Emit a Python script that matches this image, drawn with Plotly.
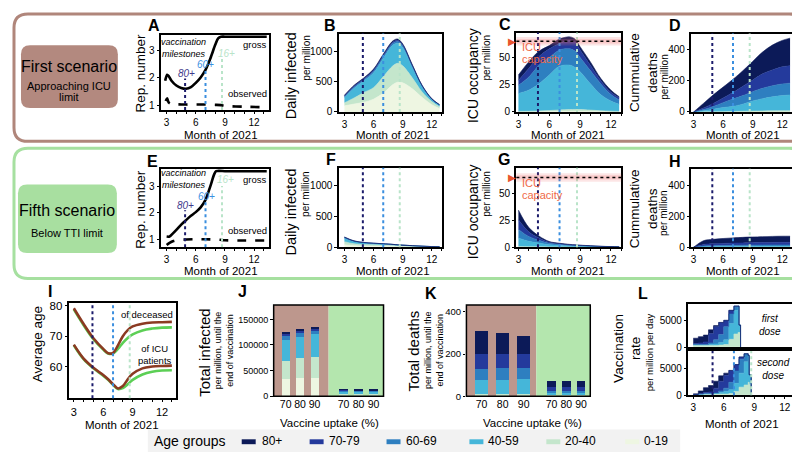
import plotly.graph_objects as go

W, H = 800, 452
SANS = "Liberation Sans, Arial, sans-serif"

# ------------------------------------------------------------------ data
AGE_GROUPS = ["0-19", "20-40", "40-59", "60-69", "70-79", "80+"]
AGE_COLORS = ["#eef6e2", "#c4e6cc", "#45b6d9", "#2e7fc0", "#243a9c", "#0c1a58"]

MILESTONE_MONTHS = [4.9, 7.0, 8.7]
MILESTONE_NAMES = ["80+", "60+", "16+"]
MILESTONE_COLORS = ["#1b1b6b", "#3b8fdf", "#b9e4c9"]

# reproduction number, first scenario (A)
GROSS_MONTHS_1 = [2.85, 3.05, 3.2, 3.5, 4, 4.5, 5, 5.5, 6, 6.5, 7, 7.5, 8, 8.3, 8.6, 9, 10, 11, 12, 13.3]
GROSS_1 = [1.9, 2.12, 2.08, 1.9, 1.72, 1.63, 1.6, 1.66, 1.82, 2.02, 2.3, 2.72, 3.22, 3.46, 3.52, 3.52, 3.52, 3.52, 3.52, 3.52]
OBS_MONTHS_1 = [2.9, 3.05, 3.2, 3.5, 4, 5, 6, 7, 8, 8.6, 9, 11, 13.3]
OBSERVED_1 = [1.15, 1.25, 1.1, 1.04, 1.03, 1.02, 1.02, 1.02, 1.01, 1.0, 0.97, 0.94, 0.92]

# reproduction number, fifth scenario (E)
GROSS_MONTHS_5 = [3.0, 3.3, 3.6, 4, 4.5, 5, 5.5, 6, 6.5, 7, 7.5, 7.9, 8.1, 9, 10, 11, 12, 13.3]
GROSS_5 = [1.1, 1.1, 1.2, 1.35, 1.55, 1.72, 1.88, 2.02, 2.2, 2.48, 3.0, 3.45, 3.56, 3.56, 3.56, 3.56, 3.56, 3.56]
OBS_MONTHS_5 = [3.0, 3.3, 3.7, 4.2, 5, 6, 7, 8, 8.5, 9, 11, 13.3]
OBSERVED_5 = [0.78, 0.86, 0.93, 0.97, 0.99, 1.0, 1.0, 0.99, 0.98, 0.96, 0.95, 0.95]

# stacked time series, rows follow AGE_GROUPS
MONTHS = [3, 4, 5, 6, 7, 8, 8.5, 9, 10, 11, 12, 12.8]

INFECTED_1 = [
    [100, 130, 160, 210, 310, 450, 490, 480, 380, 240, 120, 55],
    [50, 100, 160, 190, 270, 310, 310, 280, 180, 90, 50, 30],
    [85, 160, 190, 240, 300, 340, 330, 300, 170, 80, 30, 25],
    [15, 20, 20, 30, 30, 30, 30, 30, 20, 15, 10, 5],
    [12, 15, 15, 20, 20, 20, 20, 15, 15, 10, 5, 3],
    [13, 15, 15, 15, 20, 20, 20, 15, 10, 5, 5, 2],
]
ICU_1 = [
    [0.2, 0.2, 0.3, 0.4, 0.5, 0.6, 0.6, 0.6, 0.5, 0.3, 0.2, 0.1],
    [0.3, 0.4, 0.6, 0.9, 1.3, 1.6, 1.7, 1.6, 1.2, 0.8, 0.5, 0.3],
    [16.5, 19.4, 25, 32.7, 40.2, 40.8, 38.7, 34.8, 24.3, 14.9, 9.3, 6.6],
    [7.5, 12, 17, 16, 15, 15, 15, 13, 12, 10, 6, 4],
    [4.5, 8, 8, 8, 6, 8, 8, 7, 5, 3, 2, 2],
    [5, 6, 5, 3, 4, 3, 3, 3, 3, 2, 2, 1],
]
DEATHS_1 = [
    [0, 0, 0, 0, 0.1, 0.2, 0.2, 0.3, 0.3, 0.4, 0.4, 0.4],
    [0, 0.5, 1, 2, 3, 4, 5, 5, 6, 7, 8, 8],
    [0, 7.5, 17, 26, 33, 46, 55, 65, 79, 90, 97, 101],
    [0, 7, 17, 32, 47, 55, 57, 60, 67, 71, 75, 76],
    [0, 10, 20, 30, 42, 60, 68, 75, 93, 102, 110, 112],
    [0, 30, 55, 70, 85, 100, 110, 120, 140, 160, 170, 178],
]
INFECTED_5 = [
    [40, 25, 20, 18, 15, 12, 10, 9, 7, 5, 3, 2],
    [50, 30, 25, 22, 20, 16, 14, 12, 9, 6, 4, 3],
    [55, 35, 25, 20, 18, 15, 13, 11, 8, 5, 3, 2],
    [10, 6, 4, 3, 2, 1.5, 1, 1, 0.8, 0.5, 0.3, 0.2],
    [6, 4, 2, 1.5, 1, 0.8, 0.6, 0.5, 0.4, 0.3, 0.2, 0.1],
    [5, 3, 1.5, 1, 0.8, 0.6, 0.5, 0.4, 0.3, 0.2, 0.1, 0.1],
]
ICU_5 = [
    [0.1, 0.1, 0.1, 0.1, 0.1, 0.05, 0.05, 0.05, 0.05, 0.03, 0.02, 0.02],
    [0.5, 0.4, 0.3, 0.2, 0.2, 0.15, 0.1, 0.1, 0.1, 0.05, 0.05, 0.05],
    [8, 5, 3.5, 2, 1.5, 1.1, 1, 0.8, 0.6, 0.4, 0.25, 0.2],
    [8, 4.5, 2.5, 1.3, 0.9, 0.6, 0.5, 0.45, 0.3, 0.2, 0.12, 0.08],
    [9, 4.5, 2.2, 1.0, 0.6, 0.4, 0.35, 0.3, 0.2, 0.12, 0.08, 0.05],
    [9, 4, 1.8, 0.7, 0.4, 0.3, 0.25, 0.2, 0.12, 0.08, 0.05, 0.03],
]
DEATHS_5 = [
    [0, 0, 0, 0, 0, 0, 0, 0, 0, 0, 0, 0],
    [0, 0.6, 0.8, 1, 1.1, 1.2, 1.3, 1.3, 1.4, 1.4, 1.5, 1.5],
    [0, 2.5, 3, 3.5, 4, 4.2, 4.4, 4.5, 4.7, 4.8, 5, 5],
    [0, 5, 5.8, 6.5, 7, 7.5, 7.5, 7.6, 7.8, 8, 8, 8],
    [0, 10, 12.5, 13.5, 14.5, 15, 15.5, 16, 16.5, 17, 17, 17],
    [0, 24, 29, 32, 34, 36, 37, 37, 38, 39, 40, 40],
]

# average age (I)
AGE_MONTHS = [3, 4, 5, 6, 6.5, 7, 7.5, 8, 8.5, 9, 10, 11, 12, 13]
AGE_DECEASED_1 = [79.2, 74.0, 69.3, 65.8, 64.4, 64.5, 67.0, 70.0, 72.0, 73.2, 74.1, 74.5, 74.6, 74.7]
AGE_DECEASED_5 = [78.8, 73.6, 69.0, 65.6, 64.3, 64.3, 65.8, 67.8, 69.4, 70.6, 71.9, 72.5, 72.8, 72.9]
AGE_ICU_1 = [67.2, 62.6, 59.6, 57.2, 55.8, 54.2, 52.8, 53.6, 55.8, 57.6, 59.4, 60.0, 60.2, 60.3]
AGE_ICU_5 = [67.0, 62.4, 59.4, 57.0, 55.6, 54.0, 52.6, 52.9, 54.2, 55.6, 57.4, 58.3, 58.7, 58.8]

# totals until end of vaccination (J, K), rows follow AGE_GROUPS
UPTAKE = ["70", "80", "90"]
TOTAL_INF_1 = [[33000, 35000, 36000], [36000, 40000, 41000], [41000, 40000, 44000],
               [7000, 10000, 8000], [4000, 3000, 3000], [4000, 3000, 3000]]
TOTAL_INF_5 = [[1500, 1500, 1400], [2500, 2400, 2400], [5000, 4900, 4800],
               [1800, 1800, 1800], [1200, 1100, 1100], [1000, 1000, 1000]]
TOTAL_DEATHS_1 = [[1, 1, 1], [8, 8, 9], [68, 70, 73], [53, 54, 52], [70, 67, 63], [108, 100, 90]]
TOTAL_DEATHS_5 = [[0.5, 0.5, 0.5], [4, 4, 4], [12, 12, 12], [9, 9, 9], [16, 16, 16], [30, 30, 30]]

# vaccination rate (L), rows follow AGE_GROUPS
DOSE1_MONTHS = [3.0, 3.5, 4.0, 4.5, 5.0, 5.5, 6.0, 6.5, 7.0, 7.4, 7.5, 7.65]
DOSE1 = [
    [0, 0, 0, 0, 0, 0, 0, 0, 0, 0, 0, 0],
    [300, 300, 300, 300, 300, 400, 500, 1500, 2500, 2800, 2800, 0],
    [200, 200, 200, 200, 300, 500, 900, 3000, 4500, 5000, 1400, 0],
    [0, 0, 0, 300, 800, 1500, 2500, 1800, 800, 0, 0, 0],
    [200, 300, 500, 1800, 2500, 2300, 1200, 700, 0, 0, 0, 0],
    [1000, 1200, 1300, 700, 200, 0, 0, 0, 0, 0, 0, 0],
]
DOSE2_MONTHS = [3.0, 3.5, 4.0, 4.5, 5.0, 5.5, 6.0, 6.5, 7.0, 7.5, 8.0, 8.4, 8.5, 8.7]
DOSE2 = [
    [0, 0, 0, 0, 0, 0, 0, 0, 0, 0, 0, 0, 0, 0],
    [50, 100, 150, 150, 200, 200, 200, 300, 700, 1500, 1900, 2400, 2000, 0],
    [50, 100, 150, 150, 200, 300, 500, 700, 1500, 2600, 4300, 5000, 1800, 0],
    [0, 0, 0, 0, 0, 300, 600, 1400, 2300, 2600, 1500, 0, 0, 0],
    [0, 100, 200, 300, 900, 1800, 2400, 2200, 1200, 400, 0, 0, 0, 0],
    [150, 500, 900, 1200, 1300, 1000, 400, 0, 0, 0, 0, 0, 0, 0],
]

# ------------------------------------------------------------------ helpers
BROWN = "#b0867b"
BROWN_FILL = "#b3897f"
BROWN_BG = "#bd978d"
GREEN = "#a6e0a0"
GREEN_FILL = "#a8dfa0"
GREEN_BG = "#b4e6ae"
LINE_BROWN = "#8b3a22"
LINE_GREEN = "#5ccf55"
ICU_RED = "#ef6a48"

fig = go.Figure()
layout = dict(width=W, height=H, margin=dict(l=0, r=0, t=0, b=0),
              paper_bgcolor="white", plot_bgcolor="white", showlegend=False,
              barmode="stack", font=dict(family=SANS, size=12, color="black"))
shapes, annos = [], []

AXIS = dict(showline=True, linecolor="black", linewidth=1.5, mirror=True,
            ticks="outside", ticklen=2.5, tickwidth=1.2, tickcolor="black",
            showgrid=False, zeroline=False, fixedrange=True,
            tickfont=dict(family=SANS, size=10, color="black"))
TIME_X = dict(tickvals=[3, 6, 9, 12],
              minor=dict(ticks="outside", dtick=1, tick0=3, ticklen=2,
                         tickwidth=1, tickcolor="black"))


def ref(n):
    return ("x", "y") if n == 1 else (f"x{n}", f"y{n}")


def axes(n, box, xr, yr, xkw=None, ykw=None):
    l, r, t, b = box
    xa = dict(AXIS, domain=[l / W, r / W], range=xr, anchor=ref(n)[1])
    ya = dict(AXIS, domain=[1 - b / H, 1 - t / H], range=yr, anchor=ref(n)[0])
    xa.update(xkw or {})
    ya.update(ykw or {})
    layout["xaxis" if n == 1 else f"xaxis{n}"] = xa
    layout["yaxis" if n == 1 else f"yaxis{n}"] = ya


def note(text, x, y, size=12, color="black", angle=0, xanchor="center", yanchor="middle"):
    annos.append(dict(text=text, x=x / W, y=1 - y / H, xref="paper", yref="paper",
                      showarrow=False, textangle=angle, xanchor=xanchor,
                      yanchor=yanchor, font=dict(family=SANS, size=size, color=color)))


def rrect(x0, y0, x1, y1, r, line=None, fill="rgba(0,0,0,0)", width=0):
    def p(x, y):
        return f"{x / W:.5f},{1 - y / H:.5f}"
    path = (f"M {p(x0 + r, y0)} L {p(x1 - r, y0)} Q {p(x1, y0)} {p(x1, y0 + r)} "
            f"L {p(x1, y1 - r)} Q {p(x1, y1)} {p(x1 - r, y1)} L {p(x0 + r, y1)} "
            f"Q {p(x0, y1)} {p(x0, y1 - r)} L {p(x0, y0 + r)} Q {p(x0, y0)} {p(x0 + r, y0)} Z")
    shapes.append(dict(type="path", path=path, xref="paper", yref="paper",
                       fillcolor=fill, layer="below",
                       line=dict(color=line or fill, width=width)))


def vlines(n, tops=None, bottom=None):
    xr, yr = ref(n)
    for i, m in enumerate(MILESTONE_MONTHS):
        if tops is None:
            s = dict(yref=f"{yr} domain", y0=0, y1=1)
        else:
            s = dict(yref=yr, y0=bottom, y1=tops[i])
        shapes.append(dict(type="line", xref=xr, x0=m, x1=m, layer="above",
                           line=dict(color=MILESTONE_COLORS[i], width=2, dash="dot"), **s))


def stacked(n, months, rows, shape="spline"):
    xr, yr = ref(n)
    for g, vals in enumerate(rows):
        fig.add_trace(go.Scatter(
            x=months, y=vals, xaxis=xr, yaxis=yr, stackgroup=f"s{n}", mode="lines",
            line=dict(width=0.6, color=AGE_COLORS[g], shape=shape),
            fillcolor=AGE_COLORS[g], hoverinfo="skip"))


def icu_capacity(n):
    xr, yr = ref(n)
    shapes.append(dict(type="rect", xref=f"{xr} domain", x0=0, x1=1, yref=yr, y0=61, y1=69,
                       fillcolor="rgba(240,110,110,0.18)", line=dict(width=0), layer="above"))
    shapes.append(dict(type="rect", xref=f"{xr} domain", x0=0, x1=1, yref=yr, y0=63, y1=67,
                       fillcolor="rgba(240,110,110,0.22)", line=dict(width=0), layer="above"))
    shapes.append(dict(type="line", xref=f"{xr} domain", x0=0, x1=1, yref=yr, y0=65, y1=65,
                       line=dict(color="black", width=1.6, dash="dot"), layer="above"))
    annos.append(dict(text="▶", xref=f"{xr} domain", x=-0.1, yref=yr, y=65,
                      showarrow=False, font=dict(size=10, color="#e8552f")))
    for txt, y in [("ICU", 59.5), ("capacity", 49)]:
        annos.append(dict(text=txt, xref=f"{xr} domain", x=0.03, yref=yr, y=y,
                          xanchor="left", showarrow=False,
                          font=dict(family=SANS, size=11, color=ICU_RED)))


def rep_panel(n, gm, gross, om, obs, tops, bottom, lab_pos):
    xr, yr = ref(n)
    fig.add_trace(go.Scatter(x=gm, y=gross, xaxis=xr, yaxis=yr, mode="lines",
                             line=dict(color="black", width=2.6, shape="spline", smoothing=0.8),
                             hoverinfo="skip"))
    fig.add_trace(go.Scatter(x=om, y=obs, xaxis=xr, yaxis=yr, mode="lines",
                             line=dict(color="black", width=2.6, dash="dash", shape="spline",
                                       smoothing=0.8),
                             hoverinfo="skip"))
    vlines(n, tops, bottom)
    for i, (lx, ly) in enumerate(lab_pos):
        annos.append(dict(text=f"<i>{MILESTONE_NAMES[i]}</i>", x=lx, y=ly, xref=xr, yref=yr,
                          showarrow=False, font=dict(family=SANS, size=10,
                                                     color=["#3e3a8c", "#3b8fdf", "#b9e4c9"][i])))


# ------------------------------------------------------------------ scenario frames
rrect(5, 3, 795, 133, 14, line=BROWN, width=3)
rrect(5, 140, 795, 273, 14, line=GREEN, width=3)
rrect(12, 35, 109, 99, 9, fill=BROWN_FILL)
rrect(9, 177, 108, 247, 9, fill=GREEN_FILL)
note("First scenario", 60, 57, 16)
note("Approaching ICU", 60, 77, 11)
note("limit", 60, 88, 11)
note("Fifth scenario", 58, 204, 16)
note("Below TTI limit", 58, 226, 11)

# ------------------------------------------------------------------ axes
axes(1, (152, 260, 24, 101), [2.4, 13.5], [0.82, 3.6], TIME_X, dict(tickvals=[1, 2, 3]))
axes(2, (330, 434, 23, 103), [2.4, 13.1], [0, 1290], TIME_X, dict(tickvals=[0, 500, 1000]))
axes(3, (508, 613, 22, 103), [2.8, 13.0], [0, 73], TIME_X, dict(tickvals=[0, 25, 50]))
axes(4, (683, 785, 23, 103), [2.75, 13.1], [0, 505], TIME_X, dict(tickvals=[0, 200, 400]))
axes(5, (152, 260, 161, 241), [2.4, 13.5], [0.7, 3.65], TIME_X, dict(tickvals=[1, 2, 3]))
axes(6, (330, 434, 160, 241), [2.4, 13.1], [0, 1290], TIME_X, dict(tickvals=[0, 500, 1000]))
axes(7, (508, 613, 160, 241), [2.8, 13.0], [0, 74], TIME_X, dict(tickvals=[0, 25, 50]))
axes(8, (683, 785, 161, 241), [2.75, 13.1], [0, 510], TIME_X, dict(tickvals=[0, 200, 400]))
axes(9, (60, 167, 298, 395), [2.5, 13.4], [49.6, 80.9],
     dict(TIME_X, tickfont=dict(family=SANS, size=11)),
     dict(tickvals=[60, 70, 80], tickfont=dict(family=SANS, size=11.5)))

BAR_X = dict(type="category", categoryarray=UPTAKE, showline=False, mirror=False, ticks="",
             tickangle=0, tickfont=dict(family=SANS, size=10.5))
BAR_Y = dict(showline=False, mirror=False)
axes(10, (265, 320, 300, 393), [-0.83, 2.97], [0, 178000], BAR_X,
     dict(BAR_Y, tickvals=[0, 50000, 100000, 150000], tickformat="d",
          tickfont=dict(family=SANS, size=9)))
axes(11, (320, 375, 300, 393), [-1.0, 2.67], [0, 178000], BAR_X,
     dict(BAR_Y, showticklabels=False, ticks=""))
axes(12, (458, 528, 300, 393), [-0.72, 2.6], [0, 433], BAR_X,
     dict(BAR_Y, tickvals=[0, 200, 400], tickfont=dict(family=SANS, size=9.5)))
axes(13, (528, 582, 300, 393), [-1.03, 2.63], [0, 433], BAR_X,
     dict(BAR_Y, showticklabels=False, ticks=""))
axes(14, (680, 789, 299, 343), [2.5, 13.2], [0, 8200],
     dict(showticklabels=False, ticks=""), dict(tickvals=[0, 5000]))
axes(15, (680, 789, 347, 392), [2.5, 13.2], [0, 8200], TIME_X, dict(tickvals=[0, 5000]))

# ------------------------------------------------------------------ A / E
rep_panel(1, GROSS_MONTHS_1, GROSS_1, OBS_MONTHS_1, OBSERVED_1,
          [1.98, 2.35, 2.7], 0.82, [(5.05, 2.16), (7.0, 2.5), (9.2, 2.9)])
rep_panel(5, GROSS_MONTHS_5, GROSS_5, OBS_MONTHS_5, OBSERVED_5,
          [2.09, 2.45, 3.0], 0.7, [(4.95, 2.27), (7.1, 2.62), (9.1, 3.24)])
for n, (vy, gy, oy) in {1: (3.12, 3.22, 1.41), 5: (3.28, 3.24, 1.31)}.items():
    xr, yr = ref(n)
    annos.append(dict(text="<i>vaccination<br>milestones</i>", x=4.75, y=vy, xref=xr, yref=yr,
                      showarrow=False, font=dict(family=SANS, size=9, color="black")))
    for txt, x, y in [("gross", 12.0, gy), ("observed", 11.3, oy)]:
        annos.append(dict(text=txt, x=x, y=y, xref=xr, yref=yr, showarrow=False,
                          font=dict(family=SANS, size=9.5, color="black")))

# ------------------------------------------------------------------ stacked areas
for n, rows in [(2, INFECTED_1), (3, ICU_1), (4, DEATHS_1),
                (6, INFECTED_5), (7, ICU_5), (8, DEATHS_5)]:
    stacked(n, MONTHS, rows)
    vlines(n)
icu_capacity(3)
icu_capacity(7)

# ------------------------------------------------------------------ I
for ys, col in [(AGE_DECEASED_5, LINE_GREEN), (AGE_DECEASED_1, LINE_BROWN),
                (AGE_ICU_5, LINE_GREEN), (AGE_ICU_1, LINE_BROWN)]:
    fig.add_trace(go.Scatter(x=AGE_MONTHS, y=ys, xaxis="x9", yaxis="y9", mode="lines",
                             line=dict(color=col, width=2.6, shape="spline"), hoverinfo="skip"))
vlines(9)
note("of deceased", 166, 310, 9.5, xanchor="right")
note("of ICU<br>patients", 165, 350, 9.5, xanchor="right")

# ------------------------------------------------------------------ J / K
for n, rows, width in [(10, TOTAL_INF_1, 0.55), (11, TOTAL_INF_5, 0.55),
                       (12, TOTAL_DEATHS_1, 0.62), (13, TOTAL_DEATHS_5, 0.6)]:
    xr, yr = ref(n)
    for g, vals in enumerate(rows):
        fig.add_trace(go.Bar(x=UPTAKE, y=vals, xaxis=xr, yaxis=yr, width=width,
                             marker=dict(color=AGE_COLORS[g], line=dict(width=0)),
                             hoverinfo="skip"))
    shapes.append(dict(type="rect", xref=f"{xr} domain", yref=f"{yr} domain",
                       x0=0, x1=1, y0=0, y1=1, layer="below", line=dict(width=0),
                       fillcolor=BROWN_BG if n in (10, 12) else GREEN_BG))
for l, r in [(265, 375), (458, 582)]:
    shapes.append(dict(type="rect", xref="paper", yref="paper", x0=l / W, x1=r / W,
                       y0=1 - 393 / H, y1=1 - 300 / H, layer="above",
                       line=dict(color="black", width=1.5)))

# ------------------------------------------------------------------ L
stacked(14, DOSE1_MONTHS, DOSE1, shape="hv")
stacked(15, DOSE2_MONTHS, DOSE2, shape="hv")
vlines(15)
note("<i>first<br>dose</i>", 749, 320, 10, xanchor="left")
note("<i>second<br>dose</i>", 747, 365, 10, xanchor="left")

# ------------------------------------------------------------------ titles and letters
for txt, x, y in [("A", 145, 15), ("B", 321, 15), ("C", 497, 14), ("D", 667, 15),
                  ("E", 144, 154), ("F", 322, 152), ("G", 496, 152), ("H", 667, 154),
                  ("I", 41, 286), ("J", 234, 286), ("K", 423, 288), ("L", 635, 288)]:
    note(f"<b>{txt}</b>", x, y, 16)

for x, y in [(212, 126.5), (384, 126.5), (560, 126.5), (735, 126.5),
             (212, 265.5), (384, 265.5), (560, 265.5), (735, 265.5),
             (113, 422), (734, 421)]:
    note("Month of 2021", x, y, 11.5)
note("Vaccine uptake (%)", 321, 420, 11.5)
note("Vaccine uptake (%)", 524, 420, 11.5)

for y0 in (0, 139):
    note("Rep. number", 132, 63 + y0, 13.5, angle=-90)
    note("Daily infected", 282, 66 + y0, 14.5, angle=-90)
    note("per million", 297, 48 + y0, 10, angle=-90)
    note("ICU occupancy", 464, 66 + y0, 14, angle=-90)
    note("per million", 478, 47 + y0, 10, angle=-90)
    note("Cummulative<br>deaths", 636, 63 + y0, 13.5, angle=-90)
    note("per million", 656, 67 + y0, 10, angle=-90)
note("Average age", 28, 340, 13.5, angle=-90)
note("Total infected", 195, 349, 15, angle=-90)
note("per million, until the<br>end of vaccination", 215.5, 346, 9, angle=-90)
note("Total deaths", 405, 347, 15, angle=-90)
note("per million, until the<br>end of vaccination", 425.5, 346, 9, angle=-90)
note("Vaccination<br>rate", 618.5, 344, 13.5, angle=-90)
note("per million per day", 641, 348, 9.5, angle=-90)

# ------------------------------------------------------------------ age legend
shapes.append(dict(type="rect", xref="paper", yref="paper", x0=139 / W, x1=672 / W,
                   y0=0, y1=1 - 427 / H, fillcolor="#f2f2f2",
                   line=dict(width=0), layer="below"))
note("Age groups", 143, 439, 14, xanchor="left")
for g, sx, tx in zip(range(5, -1, -1), [233, 301, 378, 461, 538, 617],
                     [251, 318, 395, 478, 555, 634]):
    shapes.append(dict(type="rect", xref="paper", yref="paper", x0=sx / W, x1=(sx + 14) / W,
                       y0=1 - 442 / H, y1=1 - 437 / H, fillcolor=AGE_COLORS[g],
                       line=dict(width=0)))
    note(AGE_GROUPS[g], tx, 439, 12, xanchor="left")

layout["shapes"] = shapes
layout["annotations"] = annos
fig.update_layout(**layout)
fig.write_html("out.html")
